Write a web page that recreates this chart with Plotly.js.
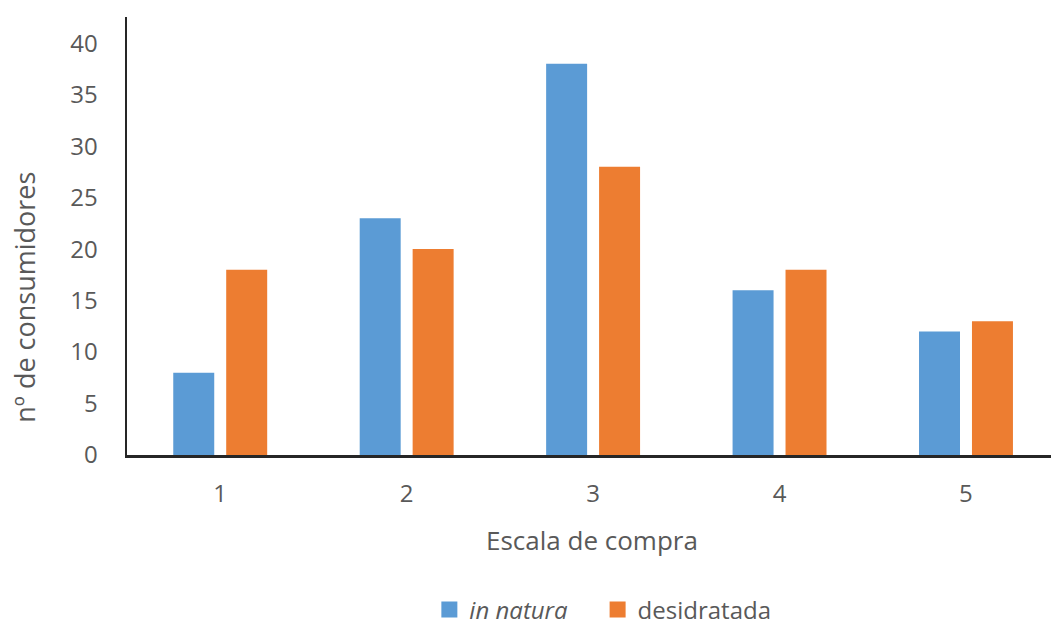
<!DOCTYPE html>
<html>
<head>
<meta charset="utf-8">
<script src="https://cdn.plot.ly/plotly-3.0.1.min.js"></script>
<style>html,body{margin:0;padding:0;background:#fff;}#chart{width:1051px;height:633px;}</style>
</head>
<body>
<div id="chart"></div>
<script>
const categories = [1, 2, 3, 4, 5];
const inNatura = [8, 23, 38, 16, 12];
const desidratada = [18, 20, 28, 18, 13];
const yTicks = [0, 5, 10, 15, 20, 25, 30, 35, 40];
const seriesNames = ['<i>in natura</i>', 'desidratada'];
const seriesColors = ['#5B9BD5', '#ED7D31'];
const xTitle = 'Escala de compra';
const yTitle = 'nº de consumidores';

const font = 'Open Sans, sans-serif';
const grey = '#595959';
const pad = '\u00a0\u00a0\u00a0\u00a0';

const traces = [
  {type: 'bar', x: categories, y: inNatura, name: seriesNames[0], marker: {color: seriesColors[0]}, showlegend: false},
  {type: 'bar', x: categories, y: desidratada, name: seriesNames[1], marker: {color: seriesColors[1]}, showlegend: false},
  {type: 'scatter', mode: 'markers', x: [null], y: [null], name: seriesNames[0] + pad,
   marker: {symbol: 'square', size: 18, color: seriesColors[0]}},
  {type: 'scatter', mode: 'markers', x: [null], y: [null], name: seriesNames[1],
   marker: {symbol: 'square', size: 18, color: seriesColors[1]}}
];

const layout = {
  width: 1051, height: 633,
  margin: {l: 127, r: 0, t: 17, b: 178, pad: 0, autoexpand: false},
  paper_bgcolor: '#fff', plot_bgcolor: '#fff',
  barmode: 'group', bargap: 0.432, bargroupgap: 0.226,
  font: {family: font, color: grey, size: 24},
  showlegend: true,
  legend: {orientation: 'h', x: 0.515, xanchor: 'center', y: -0.405, yanchor: 'bottom',
           font: {family: font, size: 24, color: grey}, itemwidth: 30, traceorder: 'normal'},
  xaxis: {range: [0.5, 5.456], tickvals: categories, ticktext: categories.map(String),
          showline: true, linecolor: '#262626', linewidth: 2.5, showgrid: false, zeroline: false,
          ticks: '', ticklabelstandoff: 16, tickfont: {size: 24, color: grey}, fixedrange: true,
          automargin: false},
  yaxis: {range: [0, 42.55], tickvals: yTicks, showline: true, linecolor: '#262626', linewidth: 2.5,
          showgrid: false, zeroline: false, ticks: '', ticklabelstandoff: 22,
          tickfont: {size: 24, color: grey}, fixedrange: true, automargin: false},
  annotations: [
    {text: xTitle, xref: 'paper', yref: 'paper', x: 0.503, y: -0.195, xanchor: 'center', yanchor: 'middle',
     showarrow: false, font: {size: 26, color: grey}},
    {text: yTitle, xref: 'paper', yref: 'paper', x: -0.111, y: 0.36, xanchor: 'center', yanchor: 'middle',
     textangle: -90, showarrow: false, font: {size: 27, color: grey}}
  ]
};

Plotly.newPlot('chart', traces, layout, {displayModeBar: false, staticPlot: true});
</script>
</body>
</html>
